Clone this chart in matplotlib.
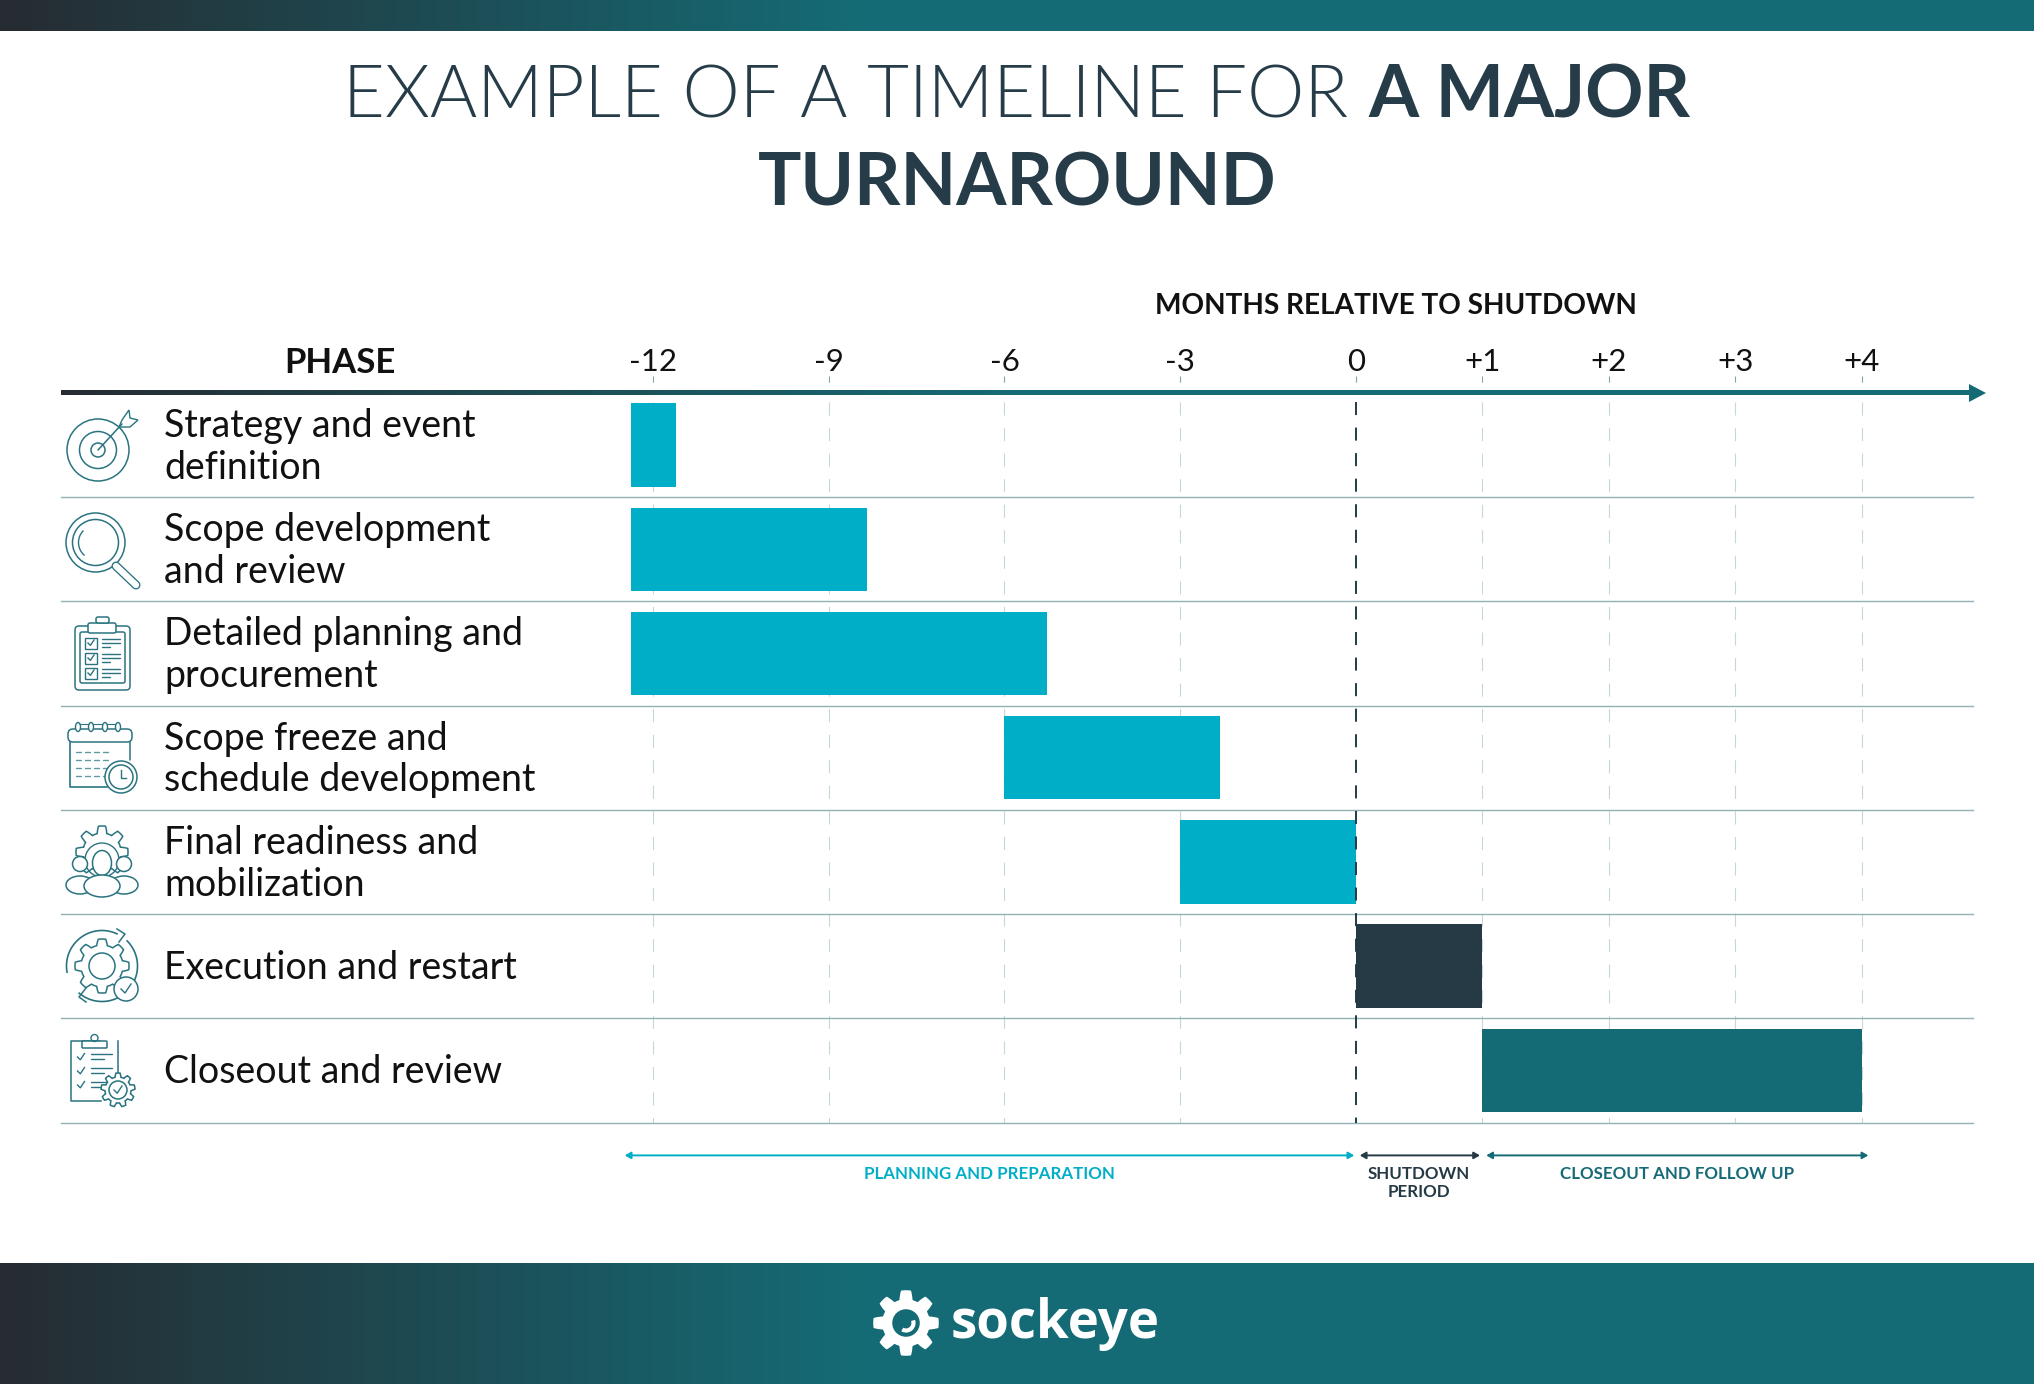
import matplotlib
matplotlib.use("Agg")
import matplotlib.pyplot as plt
import numpy as np
from matplotlib.colors import LinearSegmentedColormap
from matplotlib.patches import Circle, Ellipse, Rectangle, FancyBboxPatch, Polygon, Arc

plt.rcParams['font.family'] = ['Lato', 'DejaVu Sans']
plt.rcParams['lines.scale_dashes'] = False

W, H = 2034, 1384

# data
phases = ["Strategy and event\ndefinition", "Scope development\nand review",
          "Detailed planning and\nprocurement", "Scope freeze and\nschedule development",
          "Final readiness and\nmobilization", "Execution and restart", "Closeout and review"]
bar_start = [-12.37, -12.37, -12.37, -6, -3, 0, 1]
bar_end = [-11.6, -8.35, -5.27, -2.32, 0, 1, 4]
tick_months = [-12, -9, -6, -3, 0, 1, 2, 3, 4]
tick_labels = ["-12", "-9", "-6", "-3", "0", "+1", "+2", "+3", "+4"]
span_start = [-12.48, 0.03, 1.03]
span_end = [-0.03, 0.98, 4.05]
span_names = ["PLANNING AND PREPARATION", "SHUTDOWN\nPERIOD", "CLOSEOUT AND FOLLOW UP"]
span_mid = [-6.25, 0.5, 2.54]

CYAN = "#00aec7"
DARK = "#263a45"
TEAL = "#156b75"
TITLE = "#263c48"
ICON = "#2a7480"
bar_colors = [CYAN, CYAN, CYAN, CYAN, CYAN, DARK, TEAL]
span_colors = [CYAN, DARK, TEAL]

# month axis is not linear: months before shutdown are narrower than after
scale_m = [-30, -12, 0, 4, 14]
scale_p = [-407, 653, 1356, 1862, 3127]
def to_px(m):
    return np.interp(m, scale_m, scale_p)
def to_month(p):
    return np.interp(p, scale_p, scale_m)

fig = plt.figure(figsize=(W / 100, H / 100), dpi=100)

# page layer in pixels, for bands, title and icons
pg = fig.add_axes([0, 0, 1, 1])
pg.set_xlim(0, W)
pg.set_ylim(H, 0)
pg.axis("off")

band = LinearSegmentedColormap.from_list("band", [(0, "#262c32"), (0.42, TEAL), (1, TEAL)])
grad = np.linspace(0, 1, 512).reshape(1, -1)
pg.imshow(grad, cmap=band, extent=[0, W, 31, 0], aspect="auto")
pg.imshow(grad, cmap=band, extent=[0, W, H, 1263], aspect="auto")
line_cm = LinearSegmentedColormap.from_list("ln", ["#262c32", TEAL, TEAL])
pg.imshow(grad, cmap=line_cm, extent=[61, 1972, 395.2, 391], aspect="auto")
pg.set_xlim(0, W)
pg.set_ylim(H, 0)
pg.add_patch(Polygon([[1969, 384], [1986, 393], [1969, 402]], color=TEAL, lw=0))

# title, two weights on one line
r = fig.canvas.get_renderer()
t1 = pg.text(0, 117, "EXAMPLE OF A TIMELINE FOR", fontsize=52, weight=300, color=TITLE, va="baseline")
t2 = pg.text(0, 117, "A MAJOR", fontsize=52, weight="bold", color=TITLE, va="baseline")
w1 = t1.get_window_extent(r).width + 20
w2 = t2.get_window_extent(r).width
t1.set_x(W / 2 - (w1 + w2) / 2)
t2.set_x(W / 2 - (w1 + w2) / 2 + w1)
pg.text(W / 2, 205, "TURNAROUND", fontsize=52, weight="bold", color=TITLE, va="baseline", ha="center")

pg.text(340, 363, "PHASE", fontsize=25, weight="bold", color="#111111", ha="center", va="center")
pg.text(1396, 306, "MONTHS RELATIVE TO SHUTDOWN", fontsize=20.2, weight="bold", color="#111111", ha="center", va="center")

# icons
def circ(x, y, rad, lw=1.1, fc="none", ec=ICON):
    pg.add_patch(Circle((x, y), rad, fc=fc, ec=ec, lw=lw, zorder=3))
def seg(x0, y0, x1, y1, lw=1.1, c=ICON):
    pg.plot([x0, x1], [y0, y1], color=c, lw=lw, solid_capstyle="round", zorder=3)
def rrect(x0, y0, x1, y1, rad=3, lw=1.1, fc="none"):
    pg.add_patch(FancyBboxPatch((x0, y0), x1 - x0, y1 - y0, boxstyle=f"round,pad=0,rounding_size={rad}",
                                fc=fc, ec=ICON, lw=lw, zorder=3))
def gear(x, y, ro, ri, n=8, lw=1.1, fc="none", ec=ICON):
    a = np.linspace(0, 2 * np.pi, n * 40, endpoint=False)
    wave = np.clip(np.cos((a + np.pi / 2) * n) * 2.2, -1, 1)
    rad = (ro + ri) / 2 + wave * (ro - ri) / 2
    pg.add_patch(Polygon(np.c_[x + rad * np.cos(a), y + rad * np.sin(a)], closed=True, fc=fc, ec=ec, lw=lw, zorder=3))
def check(x, y, s=4, lw=1.0):
    pg.plot([x - s, x - s * 0.2, x + s], [y, y + s * 0.8, y - s], color=ICON, lw=lw, zorder=4)
def curve(x, y, rad, a0, a1, lw=1.2):
    a = np.radians(np.linspace(a0, a1, 60))
    pg.plot(x + rad * np.cos(a), y + rad * np.sin(a), color=ICON, lw=lw, zorder=3)

# target
for rad in [31, 18.5, 7]:
    circ(98, 450, rad)
seg(98, 450, 122, 424)
pg.add_patch(Polygon([[119, 427], [122, 420], [129, 410], [130, 418], [138, 420], [130, 427]], fc="none", ec=ICON, lw=1.0, zorder=3))
# magnifier
circ(95.5, 542.5, 29.5)
circ(95.5, 542.5, 23)
pg.add_patch(Arc((95.5, 542.5), 34, 34, theta1=130, theta2=225, ec=ICON, lw=1.0, zorder=3))
seg(116, 566, 136, 585, lw=6.5)
seg(116, 566, 136, 585, lw=4.6, c="white")
# clipboard
rrect(75, 626, 130, 690, 4)
rrect(80, 632, 125, 683, 2)
rrect(88, 623, 116, 633, 2, fc="white")
rrect(96, 617, 109, 623, 2, fc="white")
for y in [643, 658, 673]:
    pg.add_patch(Rectangle((85, y - 5.5), 12, 11, fc="none", ec=ICON, lw=1.0, zorder=3))
    check(91, y, 3)
    seg(102, y - 4, 120, y - 4, 1.0)
    seg(102, y, 120, y, 1.0)
    seg(102, y + 4, 110, y + 4, 1.0)
# calendar
rrect(68, 729, 132, 742, 5)
pg.plot([70, 70, 107], [742, 787, 787], color=ICON, lw=1.2, zorder=3)
seg(130, 742, 130, 760)
for x in [78, 91, 105, 118]:
    pg.add_patch(Ellipse((x, 727), 5, 9, fc="white", ec=ICON, lw=1.0, zorder=4))
seg(78, 724, 118, 724, 0.8)
for y in [752, 760, 768, 776]:
    for x in [76, 85, 94, 103]:
        seg(x, y, x + 5, y, 1.0, "#5f9aa3")
circ(121, 777, 16, fc="white")
circ(121, 777, 12)
pg.plot([121, 121, 126], [770, 778, 778], color=ICON, lw=1.0, zorder=4)
# gear and people
gear(102, 852, 26, 19)
circ(102, 860, 17, lw=1.0)
pg.add_patch(Ellipse((102, 863), 19, 25, fc="white", ec=ICON, lw=1.1, zorder=4))
for x in [80, 124]:
    circ(x, 864, 7.5, fc="white")
    pg.add_patch(Ellipse((x, 885), 28, 18, fc="white", ec=ICON, lw=1.1, zorder=4))
pg.add_patch(Ellipse((102, 886), 36, 22, fc="white", ec=ICON, lw=1.1, zorder=5))
# execution
curve(102, 966, 35.5, -65, -190)
curve(102, 966, 35.5, 130, 60)
curve(102, 966, 35.5, -45, 30)
pg.plot([117, 125, 119], [929, 934, 942], color=ICON, lw=1.1, zorder=3)
pg.plot([86, 79, 86], [988, 997, 1002], color=ICON, lw=1.1, zorder=3)
gear(102, 966, 27, 21)
circ(102, 966, 13)
circ(126, 989, 12, fc="white")
check(126, 989, 5)
# closeout
pg.plot([118, 118], [1041, 1075], color=ICON, lw=1.1, zorder=3)
pg.plot([100, 71, 71, 101], [1041, 1041, 1101, 1101], color=ICON, lw=1.1, zorder=3)
rrect(82, 1041, 107, 1048, 1, fc="white")
circ(94.5, 1038, 3.5, lw=1.0)
for y in [1057, 1071, 1085]:
    check(81, y, 3.5)
    seg(91, y - 3, 112, y - 3, 1.0)
    seg(91, y + 2, 104, y + 2, 1.0)
gear(118, 1090, 17, 13, n=9, fc="white")
circ(118, 1090, 9)
check(118, 1090, 4)

# logo
gear(906, 1323, 32, 23, n=8, fc="white", ec="white")
circ(906, 1323, 13, fc=TEAL, ec=TEAL)
pg.add_patch(Arc((906, 1323), 15, 15, theta1=-20, theta2=120, ec="white", lw=3, zorder=4))
pg.text(951, 1338, "sockeye", fontsize=38, weight="bold", family="Open Sans", color="white", va="baseline", zorder=4)

# gantt
ax_top, ax_bot = 382, 1122.5
ax = fig.add_axes([62 / W, 1 - ax_bot / H, (1975 - 62) / W, (ax_bot - ax_top) / H], zorder=5)
ax.patch.set_alpha(0)
ax.set_xscale("function", functions=(to_px, to_month))
ax.set_xlim(to_month(62), to_month(1975))
ax.set_ylim(6.5, -0.5 - (393 - ax_top) / 104.2)
for sp in ax.spines.values():
    sp.set_visible(False)

# dashed month lines go behind the bars
for m in tick_months:
    if m == 0:
        ax.plot([m, m], [-0.415, 6.5], color="#1f3c46", lw=1.4, ls=(0, (9.4, 9)), zorder=3)
    else:
        ax.plot([m, m], [-0.415, 6.5], color="#c6d6d9", lw=0.8, ls=(0, (9.4, 9)), zorder=1)

row_x = [to_month(61), to_month(1973)]
for row in range(len(phases)):
    ax.plot(row_x, [row + 0.5, row + 0.5], color="#93b2b6", lw=1.0, zorder=1.5, clip_on=False)

ax.barh(range(len(phases)), np.array(bar_end) - np.array(bar_start), left=bar_start,
        height=0.8, color=bar_colors, zorder=2)

ax.set_yticks([])
ax.set_xticks(tick_months, tick_labels)
ax.minorticks_off()
ax.xaxis.tick_top()
ax.tick_params(axis="x", length=4.5, width=0.8, color="#8aa0a5", pad=0, labelsize=22.5, labelcolor="#111111")

for row, name in enumerate(phases):
    pg.text(164, 447 + 104.2 * row, name, fontsize=27, color="#111111", va="center", ha="left", linespacing=1.2)

span_y = 6 + (1155 - 1070) / 104.2
for a, b, c, name, mid in zip(span_start, span_end, span_colors, span_names, span_mid):
    ax.annotate("", xy=(b, span_y), xytext=(a, span_y), annotation_clip=False,
                arrowprops=dict(arrowstyle="<|-|>,head_length=0.35,head_width=0.2", color=c, lw=1.4,
                                shrinkA=0, shrinkB=0))
    ax.text(mid, span_y + 0.105, name, color=c, fontsize=12.2, weight="bold", ha="center", va="top",
            linespacing=1.12, clip_on=False)

fig.savefig("out.png", dpi=100)
